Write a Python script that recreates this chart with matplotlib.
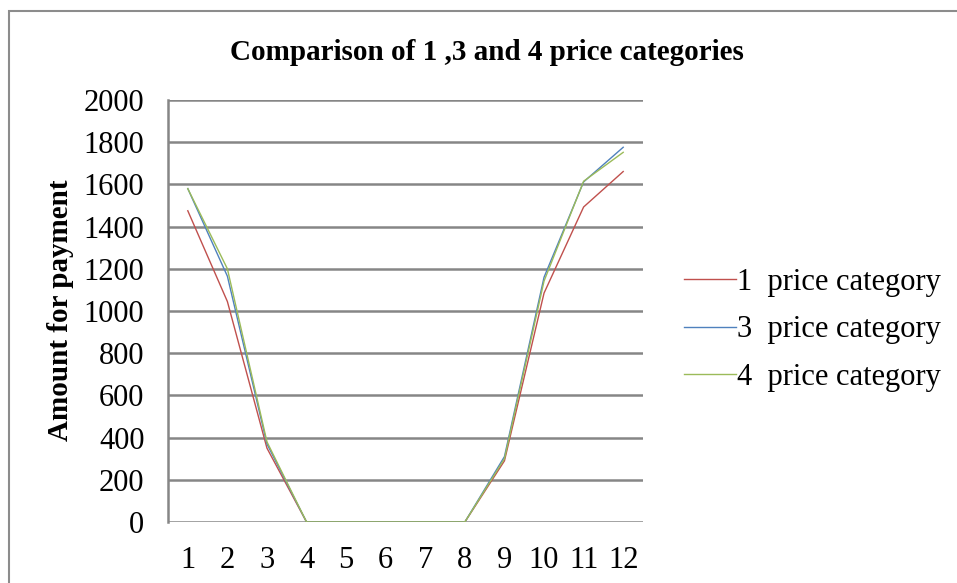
import matplotlib.pyplot as plt
from matplotlib.patches import Rectangle

months = list(range(1, 13))
cat1 = [1475, 1045, 350, 0, 0, 0, 0, 0, 290, 1085, 1493, 1661]
cat3 = [1580, 1165, 370, 0, 0, 0, 0, 0, 310, 1160, 1612, 1776]
cat4 = [1580, 1200, 380, 0, 0, 0, 0, 0, 300, 1142, 1615, 1752]
labels = ["1  price category", "3  price category", "4  price category"]
colors = ["#C0504D", "#4F81BD", "#9BBB59"]

plt.rcParams["font.family"] = ["Liberation Serif", "DejaVu Serif"]

W, H = 957, 583
fig = plt.figure(figsize=(W / 100, H / 100), dpi=100)

# outer chart border (only top/left visible in the crop)
fig.patches.append(Rectangle((9 / W, -0.1), 1.2, 1.1 - 11 / H,
                             transform=fig.transFigure, fill=False,
                             edgecolor="#8c8c8c", linewidth=1.5))

ax = fig.add_axes([168 / W, 61 / H, 475 / W, 422 / H])
for vals, lab, col in zip([cat1, cat3, cat4], labels, colors):
    ax.plot(months, vals, color=col, linewidth=1.0, label=lab)

ax.set_xlim(0.5, 12.5)
ax.set_ylim(0, 2000)
ax.set_xticks(months)
ax.set_yticks(range(0, 2001, 200))
ax.yaxis.grid(True, color="#868686", linewidth=1.8)
ax.set_axisbelow(True)
for s in ["top", "right", "bottom"]:
    ax.spines[s].set_visible(False)
ax.spines["left"].set_color("#868686")
ax.spines["left"].set_linewidth(1.8)
ax.tick_params(length=0, labelsize=22)
ax.tick_params(axis="x", pad=17)
ax.tick_params(axis="y", pad=17)

fig.text(61 / W, 1 - 310 / H, "Amount for payment", rotation=90,
         ha="center", va="center", fontsize=21, fontweight="bold")
fig.text(487 / W, 1 - 52 / H, "Comparison of 1 ,3 and 4 price categories",
         ha="center", va="center", fontsize=21, fontweight="bold")

ax.legend(loc="center left", bbox_to_anchor=(1.028, 0.455), frameon=False,
          fontsize=22, handlelength=1.7, handletextpad=0.05, labelspacing=0.61)

fig.savefig("out.png", dpi=100)
